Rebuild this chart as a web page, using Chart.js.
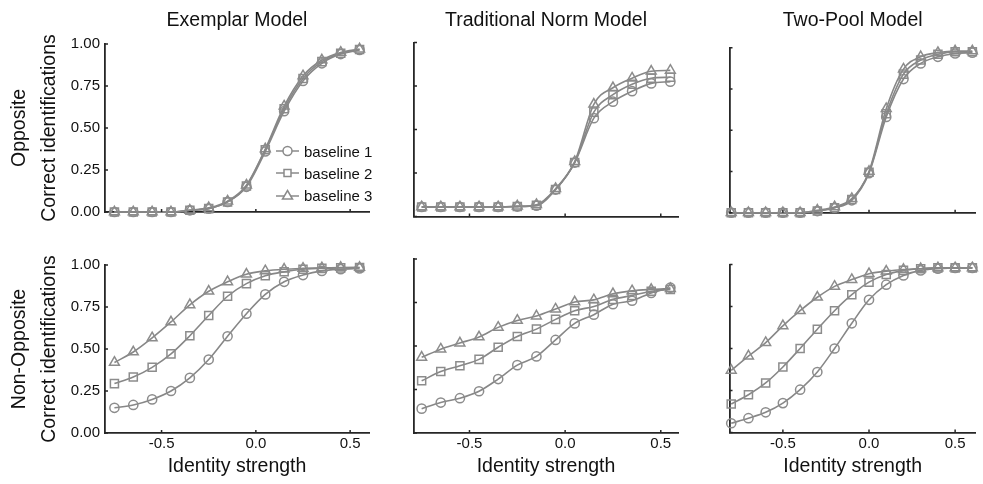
<!DOCTYPE html>
<html lang="en">
<head>
<meta charset="UTF-8">
<title>Correct identifications by identity strength</title>
<script src="https://cdn.jsdelivr.net/npm/chart.js"></script>
<style>
  body { margin: 0; background: #fff; font-family: "Liberation Sans", Arial, sans-serif; }
  #fig { position: relative; width: 983px; height: 484px; overflow: hidden; }
  #fig canvas { position: absolute; }
  .legend { position: absolute; left: 276px; top: 140px; font-size: 15px; color: #111; }
  .legend div { display: flex; align-items: center; height: 22px; }
  .legend svg { margin-right: 4px; }
  .legend svg * { stroke: #8a8a8a; stroke-width: 1.5; fill: none; }
</style>
</head>
<body>
<div id="fig">
  <canvas id="p00"></canvas>
  <canvas id="p01"></canvas>
  <canvas id="p02"></canvas>
  <canvas id="p10"></canvas>
  <canvas id="p11"></canvas>
  <canvas id="p12"></canvas>
  <div class="legend">
    <div><svg width="24" height="12"><path d="M0 6H7M16 6H23"/><circle cx="11.5" cy="6" r="4.5"/></svg>baseline 1</div>
    <div><svg width="24" height="12"><path d="M0 6H8M15 6H23"/><rect x="8" y="2.5" width="7" height="7"/></svg>baseline 2</div>
    <div><svg width="24" height="12"><path d="M0 7H8.5M14.5 7H23"/><polygon points="11.5,1.5 16.5,10 6.5,10"/></svg>baseline 3</div>
  </div>
</div>

<script>
// stimulus positions: Exemplar / Norm panels sit half a step off the Two-Pool ones
const xHalfStep = [-0.75, -0.65, -0.55, -0.45, -0.35, -0.25, -0.15, -0.05, 0.05, 0.15, 0.25, 0.35, 0.45, 0.55];
const xFullStep = [-0.8, -0.7, -0.6, -0.5, -0.4, -0.3, -0.2, -0.1, 0.0, 0.1, 0.2, 0.3, 0.4, 0.5, 0.6];
const xTickValues = [-0.5, 0, 0.5];
const yTickValues = [0, 0.25, 0.5, 0.75, 1];

const modelTitles = ['Exemplar Model', 'Traditional Norm Model', 'Two-Pool Model'];
const rowLabels = ['Opposite', 'Non-Opposite'];
const baselineNames = ['baseline 1', 'baseline 2', 'baseline 3'];

// Exemplar model
const exemplarOpp1 = [0, 0, 0, 0, 0.01, 0.02, 0.06, 0.15, 0.36, 0.60, 0.78, 0.885, 0.94, 0.965];
const exemplarOpp2 = [0, 0, 0, 0, 0.01, 0.02, 0.06, 0.155, 0.37, 0.615, 0.795, 0.895, 0.945, 0.967];
const exemplarOpp3 = [0, 0, 0, 0, 0.01, 0.025, 0.065, 0.16, 0.375, 0.63, 0.81, 0.905, 0.95, 0.97];
const exemplarNon1 = [0.15, 0.167, 0.2, 0.25, 0.328, 0.437, 0.576, 0.71, 0.825, 0.9, 0.94, 0.965, 0.975, 0.98];
const exemplarNon2 = [0.294, 0.333, 0.391, 0.471, 0.579, 0.699, 0.814, 0.889, 0.936, 0.96, 0.975, 0.98, 0.983, 0.985];
const exemplarNon3 = [0.42, 0.482, 0.566, 0.661, 0.763, 0.844, 0.9, 0.945, 0.965, 0.975, 0.98, 0.983, 0.985, 0.985];

// Traditional norm model
const normOpp1 = [0.055, 0.055, 0.055, 0.055, 0.055, 0.057, 0.062, 0.155, 0.31, 0.565, 0.66, 0.72, 0.765, 0.775];
const normOpp2 = [0.055, 0.055, 0.055, 0.055, 0.055, 0.057, 0.065, 0.155, 0.31, 0.60, 0.70, 0.76, 0.795, 0.80];
const normOpp3 = [0.055, 0.055, 0.055, 0.055, 0.055, 0.06, 0.068, 0.16, 0.315, 0.645, 0.74, 0.795, 0.835, 0.84];
const normNon1 = [0.14, 0.175, 0.2, 0.24, 0.31, 0.39, 0.44, 0.535, 0.63, 0.68, 0.74, 0.76, 0.805, 0.835];
const normNon2 = [0.30, 0.353, 0.387, 0.423, 0.493, 0.555, 0.597, 0.653, 0.703, 0.727, 0.768, 0.79, 0.815, 0.825];
const normNon3 = [0.435, 0.482, 0.517, 0.552, 0.607, 0.647, 0.672, 0.712, 0.753, 0.765, 0.80, 0.817, 0.825, 0.83];

// Two-pool model
const poolOpp1 = [0, 0, 0, 0, 0, 0.01, 0.03, 0.075, 0.24, 0.58, 0.81, 0.905, 0.945, 0.965, 0.97];
const poolOpp2 = [0, 0, 0, 0, 0, 0.01, 0.03, 0.08, 0.245, 0.60, 0.84, 0.925, 0.96, 0.975, 0.975];
const poolOpp3 = [0, 0, 0, 0, 0, 0.015, 0.035, 0.085, 0.25, 0.63, 0.87, 0.945, 0.97, 0.98, 0.98];
const poolNon1 = [0.055, 0.085, 0.12, 0.175, 0.255, 0.36, 0.50, 0.65, 0.79, 0.88, 0.935, 0.965, 0.975, 0.98, 0.98];
const poolNon2 = [0.17, 0.225, 0.295, 0.39, 0.50, 0.615, 0.725, 0.82, 0.895, 0.94, 0.965, 0.975, 0.98, 0.98, 0.98];
const poolNon3 = [0.37, 0.455, 0.535, 0.635, 0.725, 0.805, 0.87, 0.91, 0.945, 0.96, 0.97, 0.975, 0.98, 0.98, 0.98];

const panels = [
  { row: 0, col: 0, xs: xHalfStep, series: [exemplarOpp1, exemplarOpp2, exemplarOpp3] },
  { row: 0, col: 1, xs: xHalfStep, series: [normOpp1, normOpp2, normOpp3] },
  { row: 0, col: 2, xs: xFullStep, series: [poolOpp1, poolOpp2, poolOpp3] },
  { row: 1, col: 0, xs: xHalfStep, series: [exemplarNon1, exemplarNon2, exemplarNon3] },
  { row: 1, col: 1, xs: xHalfStep, series: [normNon1, normNon2, normNon3] },
  { row: 1, col: 2, xs: xFullStep, series: [poolNon1, poolNon2, poolNon3] }
];

// page geometry (canvas boxes and where each plot area should land)
const colBox = [
  { left: 0,   width: 380, l: 105,   r: 369, min: -0.8,  max: 0.6 },
  { left: 380, width: 310, l: 414,   r: 678, min: -0.79, max: 0.59 },
  { left: 690, width: 293, l: 729.5, r: 983, min: -0.81, max: 0.62 }
];
const rowBox = [{ top: 0, height: 238 }, { top: 238, height: 246 }];
const plotTB = [
  [[44, 212], [42.5, 216.5], [47.7, 212.7]],
  [[265, 433], [259, 433], [264.5, 432.5]]
];

const markerStyles = ['circle', 'rect', 'triangle'];
const markerSizes = [4.6, 5.7, 5.7];
const lineGrey = '#878787';
const markerGrey = '#8c8c8c';
const axisColor = '#262626';
const textColor = '#111';
const titleSize = 19.5;

Chart.defaults.font.family = '"Liberation Sans", Arial, sans-serif';

// small tick marks pointing into the plot, like the original figure
const innerTicks = {
  id: 'innerTicks',
  afterDraw(chart) {
    const { ctx, chartArea: a, scales: { x, y } } = chart;
    ctx.save();
    ctx.strokeStyle = axisColor;
    ctx.lineWidth = 1.5;
    ctx.beginPath();
    x.ticks.forEach(t => {
      const px = x.getPixelForValue(t.value);
      ctx.moveTo(px, a.bottom);
      ctx.lineTo(px, a.bottom - 3);
    });
    y.ticks.forEach(t => {
      const py = y.getPixelForValue(t.value);
      ctx.moveTo(a.left, py);
      ctx.lineTo(a.left + 3, py);
    });
    ctx.stroke();
    ctx.restore();
  }
};

function makePanel(p) {
  const c = colBox[p.col];
  const rb = rowBox[p.row];
  const [t, b] = plotTB[p.row][p.col];
  const canvas = document.getElementById('p' + p.row + p.col);
  canvas.width = c.width;
  canvas.height = rb.height;
  canvas.style.left = c.left + 'px';
  canvas.style.top = rb.top + 'px';

  const datasets = p.series.map((vals, k) => ({
    label: baselineNames[k],
    data: p.xs.map((x, i) => ({ x: x, y: vals[i] })),
    borderColor: lineGrey,
    borderWidth: 1.6,
    pointStyle: markerStyles[k],
    pointRadius: markerSizes[k],
    pointBorderWidth: 1.5,
    pointBorderColor: markerGrey,
    pointBackgroundColor: 'rgba(255,255,255,0)',
    cubicInterpolationMode: 'monotone',
    clip: false
  }));

  return new Chart(canvas, {
    type: 'line',
    data: { datasets: datasets },
    options: {
      responsive: false,
      animation: false,
      events: [],
      layout: {
        padding: { top: p.row === 1 ? t - rb.top : 0, right: c.left + c.width - c.r, left: 0, bottom: 0 }
      },
      plugins: {
        legend: { display: false },
        tooltip: { enabled: false },
        title: {
          display: p.row === 0,
          text: modelTitles[p.col],
          fullSize: false,
          color: textColor,
          font: { size: titleSize, weight: 'normal' },
          padding: { top: 9.3, bottom: t - 9.3 - titleSize * 1.2 }
        }
      },
      scales: {
        x: {
          type: 'linear',
          min: c.min,
          max: c.max,
          grid: { display: false, drawTicks: false },
          border: { display: true, color: axisColor, width: 1.8 },
          ticks: {
            display: p.row === 1,
            padding: 2,
            color: textColor,
            font: { size: 15 },
            callback: v => v.toFixed(1)
          },
          afterBuildTicks: s => { s.ticks = xTickValues.map(v => ({ value: v })); },
          afterFit: s => { s.height = rb.top + rb.height - b; },
          title: {
            display: p.row === 1,
            text: 'Identity strength',
            color: textColor,
            font: { size: titleSize },
            padding: { top: 0, bottom: 5.3 }
          }
        },
        y: {
          min: 0,
          max: 1,
          grid: { display: false, drawTicks: false },
          border: { display: true, color: axisColor, width: 1.8 },
          ticks: {
            display: p.col === 0,
            padding: 5,
            color: textColor,
            font: { size: 15 },
            callback: v => v.toFixed(2)
          },
          afterBuildTicks: s => { s.ticks = yTickValues.map(v => ({ value: v })); },
          afterFit: s => { s.width = c.l - c.left; },
          title: {
            display: p.col === 0,
            text: [rowLabels[p.row], 'Correct identifications'],
            color: textColor,
            font: { size: titleSize, lineHeight: 1.5 },
            padding: { top: 5.4, bottom: 0 }
          }
        }
      }
    },
    plugins: [innerTicks]
  });
}

panels.forEach(makePanel);
</script>
</body>
</html>
